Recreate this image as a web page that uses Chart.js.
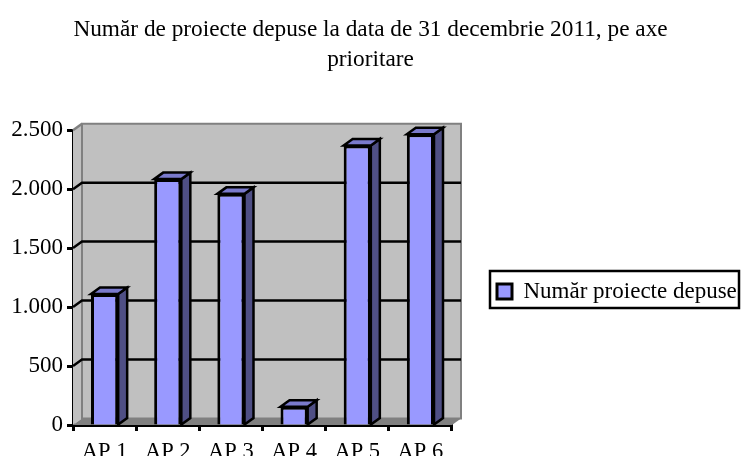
<!DOCTYPE html>
<html>
<head>
<meta charset="utf-8">
<style>
  html, body { margin: 0; padding: 0; background: #fff; }
  #wrap { width: 741px; height: 456px; }
</style>
<script src="https://cdn.jsdelivr.net/npm/chart.js@4/dist/chart.umd.min.js"></script>
</head>
<body>
<div id="wrap"><canvas id="chart" width="741" height="456"></canvas></div>
<script>
const categories = ['AP 1', 'AP 2', 'AP 3', 'AP 4', 'AP 5', 'AP 6'];
const seriesName = 'Număr proiecte depuse';
const projectCounts = [1110, 2085, 1960, 155, 2370, 2465];
const titleLines = ['Număr de proiecte depuse la data de 31 decembrie 2011, pe axe', 'prioritare'];

const serif = '"Liberation Serif", "Times New Roman", serif';
const depthX = 9;
const depthY = 6.5;

function poly(ctx, pts, fill, stroke, lw) {
  ctx.beginPath();
  pts.forEach((p, i) => i ? ctx.lineTo(p[0], p[1]) : ctx.moveTo(p[0], p[1]));
  ctx.closePath();
  ctx.fillStyle = fill;
  ctx.fill();
  if (stroke) {
    ctx.strokeStyle = stroke;
    ctx.lineWidth = lw;
    ctx.stroke();
  }
}

// fake 3D: walls and floor behind the bars, then the side and top of each bar
const box3d = {
  id: 'box3d',
  afterLayout(chart) {
    const legend = chart.legend;
    legend.left = 457;
    legend.top = 240;
  },
  beforeDatasetsDraw(chart) {
    const { ctx, chartArea: a, scales } = chart;
    const l = a.left, r = a.right, t = a.top, b = a.bottom;
    ctx.save();
    poly(ctx, [[l, t], [l + depthX, t - depthY], [l + depthX, b - depthY], [l, b]], '#c0c0c0');
    poly(ctx, [[l + depthX, t - depthY], [r + depthX, t - depthY], [r + depthX, b - depthY], [l + depthX, b - depthY]], '#c0c0c0', '#808080', 2);
    poly(ctx, [[l, b], [l + depthX, b - depthY], [r + depthX, b - depthY], [r, b]], '#808080');

    // gridlines run on the back wall with a slanted stub on the left wall
    ctx.lineWidth = 2.5;
    scales.y.ticks.forEach(tick => {
      if (tick.value === 0) return;
      const y = scales.y.getPixelForValue(tick.value);
      ctx.beginPath();
      ctx.moveTo(l, y);
      ctx.lineTo(l + depthX, y - depthY);
      if (tick.value < scales.y.max) ctx.lineTo(r + depthX, y - depthY);
      ctx.strokeStyle = tick.value < scales.y.max ? '#000' : '#808080';
      ctx.stroke();
    });

    chart.getDatasetMeta(0).data.forEach(bar => {
      const x0 = bar.x - bar.width / 2, x1 = bar.x + bar.width / 2;
      poly(ctx, [[x1, bar.y], [x1 + depthX, bar.y - depthY], [x1 + depthX, bar.base - depthY], [x1, bar.base]], '#4f4f85', '#000', 2.5);
      poly(ctx, [[x0, bar.y], [x0 + depthX, bar.y - depthY], [x1 + depthX, bar.y - depthY], [x1, bar.y]], '#7a7acc', '#000', 2.5);
    });
    ctx.restore();
  },
  afterDraw(chart) {
    // frame round the legend
    const { ctx } = chart;
    ctx.save();
    ctx.strokeStyle = '#000';
    ctx.lineWidth = 2.5;
    ctx.strokeRect(490, 271, 249, 37);
    ctx.restore();
  }
};

new Chart(document.getElementById('chart'), {
  type: 'bar',
  data: {
    labels: categories,
    datasets: [{
      label: seriesName,
      data: projectCounts,
      backgroundColor: '#9999ff',
      borderColor: '#000',
      borderWidth: 3,
      barPercentage: 0.43,
      categoryPercentage: 1,
      clip: false
    }]
  },
  plugins: [box3d],
  options: {
    responsive: false,
    animation: false,
    plugins: {
      title: {
        display: true,
        text: titleLines,
        color: '#000',
        font: { family: serif, size: 23.3, weight: 'normal', lineHeight: 1.27 },
        padding: { top: 15, bottom: 56 }
      },
      legend: {
        position: 'right',
        align: 'start',
        maxWidth: 289,
        labels: {
          color: '#000',
          font: { family: serif, size: 23 },
          boxWidth: 15,
          boxHeight: 15,
          padding: 40
        }
      },
      tooltip: { enabled: false }
    },
    scales: {
      x: {
        z: 1,
        afterFit(s) { s.height = 31; },
        border: { color: '#000', width: 3 },
        grid: { offset: true, drawOnChartArea: false, tickLength: 6, tickColor: '#000', tickWidth: 3 },
        ticks: { color: '#000', maxRotation: 0, padding: 8, font: { family: serif, size: 22.5 } }
      },
      y: {
        z: 1,
        min: 0,
        max: 2500,
        afterFit(s) { s.width = 73; },
        border: { color: '#000', width: 3 },
        grid: { drawOnChartArea: false, tickLength: 6, tickColor: '#000', tickWidth: 3 },
        ticks: {
          stepSize: 500,
          color: '#000',
          padding: 4,
          font: { family: serif, size: 23 },
          callback: v => String(v).replace(/(\d)(\d{3})$/, '$1.$2')
        }
      }
    }
  }
});
</script>
</body>
</html>
